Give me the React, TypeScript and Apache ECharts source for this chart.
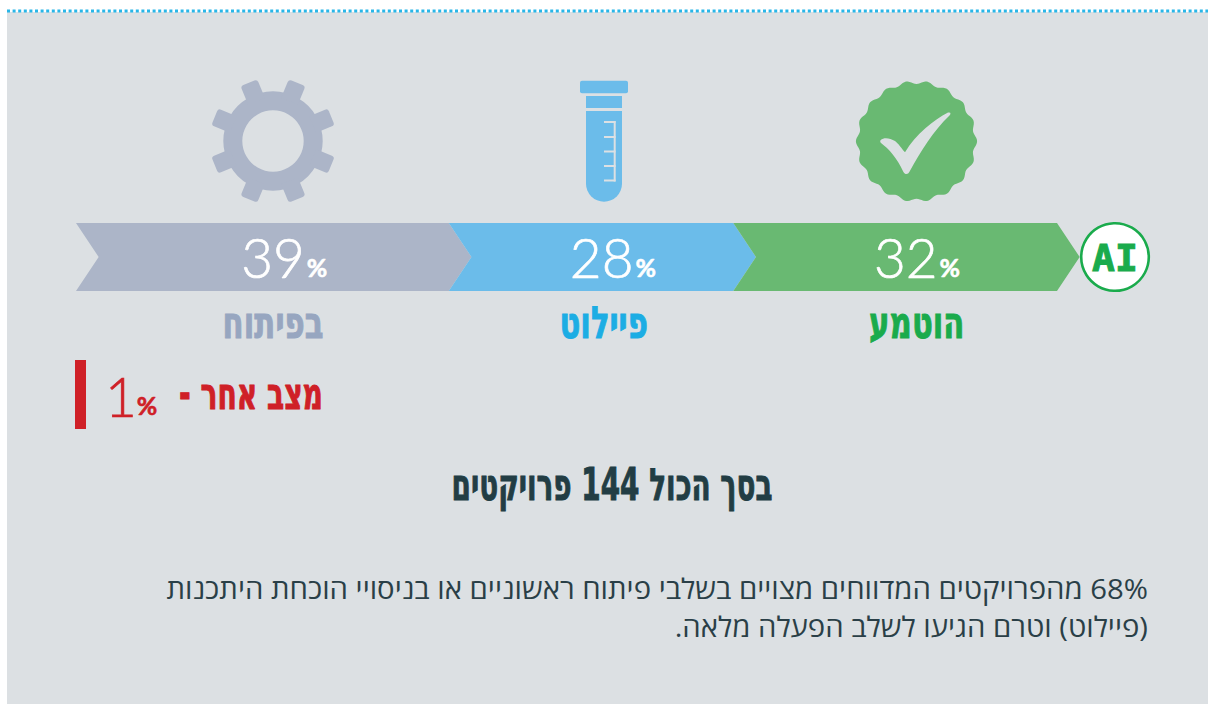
import React, { useEffect, useRef } from "react";
import * as echarts from "echarts";

const stageLabels = ["בפיתוח", "פיילוט", "הוטמע"];
const stagePercents = [39, 28, 32];
const stageSpans = [38, 29, 33];
const bandColors = ["#acb5c8", "#6bbcea", "#69b972"];
const labelColors = ["#97a6c0", "#1cade4", "#1aab4c"];
const otherLabel = "מצב אחר -";
const otherPercent = 1;
const totalTitle = "בסך הכול 144 פרויקטים";
const noteLines = [
  "68% מהפרויקטים המדווחים מצויים בשלבי פיתוח ראשוניים או בניסויי הוכחת היתכנות",
  "(פיילוט) וטרם הגיעו לשלב הפעלה מלאה.",
];

const BG = "#dce0e3";
const RED = "#cf2027";
const DARK = "#223d44";
const NUM_FONT = "Lato";
const HEAD_FONT = "DejaVu Sans";
const labelOffsets = [-12, -10, -1];

function badgePath() {
  const cx = 916.5, cy = 141.3, n = 18, steps = 216;
  let d = "";
  for (let i = 0; i < steps; i++) {
    const a = (i / steps) * Math.PI * 2;
    const r = 59 + 1.6 * Math.cos(n * a);
    d += (i ? "L" : "M") + (cx + r * Math.cos(a)).toFixed(2) + " " + (cy + r * Math.sin(a)).toFixed(2);
  }
  return d + "Z";
}
const checkPath =
  "M880.7 140 C884 137 890 138 895 141 C898 143 902 149 905 152.3 C916 134 934 120 948 112.6 C951 111.8 951 114 949.5 115.4 C934 130 920 152 909.6 171.5 C908 174.8 905 174.8 903.3 171.7 C897 158 889 149 881 143 C880 142 880 141 880.7 140 Z";
const tubePath = "M586 111 H622 V183.7 A18 18 0 0 1 586 183.7 Z";

echarts.graphic.registerShape("badgeShape", echarts.graphic.extendPath(badgePath(), {}));
echarts.graphic.registerShape("checkShape", echarts.graphic.extendPath(checkPath, {}));
echarts.graphic.registerShape("tubeShape", echarts.graphic.extendPath(tubePath, {}));

function squeezed(text: string, x: number, y: number, size: number, scaleX: number, fill: string) {
  return {
    type: "text",
    x,
    y,
    scaleX,
    style: {
      x: 0,
      y: 0,
      text,
      fill,
      stroke: fill,
      lineWidth: 1,
      font: `bold ${size}px "${HEAD_FONT}"`,
      textAlign: "center",
      textVerticalAlign: "middle",
    },
  };
}

function numberText(text: string, x: number, y: number, fill: string) {
  return {
    type: "text",
    x,
    y,
    scaleX: 0.98,
    style: {
      x: 0,
      y: 0,
      text,
      fill,
      stroke: fill,
      lineWidth: 0.7,
      font: `300 56px "${NUM_FONT}"`,
      textAlign: "center",
      textVerticalAlign: "middle",
    },
  };
}

function percentSign(x: number, y: number, fill: string) {
  return {
    type: "text",
    style: {
      x,
      y,
      text: "%",
      fill,
      stroke: fill,
      lineWidth: 0.6,
      font: `bold 25px "${NUM_FONT}"`,
      textAlign: "center",
      textVerticalAlign: "middle",
    },
  };
}

function gear() {
  const teeth = [0, 1, 2, 3, 4, 5, 6, 7].map((k) => ({
    type: "rect",
    rotation: -(Math.PI / 8 + (k * Math.PI) / 4),
    shape: { x: -9, y: -63, width: 18, height: 20, r: [3, 3, 0, 0] },
    style: { fill: bandColors[0] },
  }));
  return {
    type: "group",
    x: 273,
    y: 141,
    children: [
      { type: "ring", shape: { cx: 0, cy: 0, r: 49.7, r0: 30.7 }, style: { fill: bandColors[0] } },
      ...teeth,
    ],
  };
}

function tube() {
  const ticks = [122, 137, 151.5, 166, 180.5].map((y) => ({
    type: "rect",
    shape: { x: 604, y: y - 1, width: 11.5, height: 2 },
    style: { fill: BG },
  }));
  return {
    type: "group",
    children: [
      { type: "rect", shape: { x: 580, y: 80.7, width: 48, height: 12.6, r: 2 }, style: { fill: bandColors[1] } },
      { type: "rect", shape: { x: 586, y: 96, width: 36, height: 12 }, style: { fill: bandColors[1] } },
      { type: "tubeShape", style: { fill: bandColors[1] } },
      { type: "rect", shape: { x: 613.7, y: 121, width: 2, height: 60.5 }, style: { fill: BG } },
      ...ticks,
    ],
  };
}

function renderBand(params: any, api: any) {
  const i = api.value(2);
  const start = api.coord([api.value(0), 1]);
  const end = api.coord([api.value(1), 0]);
  const top = start[1], bottom = end[1], mid = (top + bottom) / 2;
  const depth = (bottom - top) / 3;
  const left = start[0], right = end[0];
  const center = left + depth + (right - left) / 2;
  return {
    type: "group",
    children: [
      {
        type: "polygon",
        shape: {
          points: [
            [left, top],
            [right, top],
            [right + depth, mid],
            [right, bottom],
            [left, bottom],
            [left + depth, mid],
          ],
        },
        style: { fill: bandColors[i] },
      },
      numberText(String(stagePercents[i]), center - 12, mid - 1, "#ffffff"),
      percentSign(center + 32, mid + 10, "#ffffff"),
      squeezed(stageLabels[i], center + labelOffsets[i], 323, 44, 0.7, labelColors[i]),
    ],
  };
}

export default function App() {
  const ref = useRef<HTMLDivElement>(null);
  useEffect(() => {
    if (!ref.current) return;
    const chart = echarts.init(ref.current, undefined, { renderer: "svg" });
    let acc = 0;
    const bands = stageSpans.map((s, i) => {
      const row = [acc, acc + s, i];
      acc += s;
      return row;
    });
    chart.setOption({
      animation: false,
      backgroundColor: "#ffffff",
      grid: { left: 76, top: 223, width: 981, height: 68 },
      xAxis: { type: "value", min: 0, max: 100, show: false },
      yAxis: { type: "value", min: 0, max: 1, show: false },
      series: [
        {
          type: "custom",
          coordinateSystem: "cartesian2d",
          silent: true,
          clip: false,
          encode: { x: [0, 1] },
          data: bands,
          renderItem: renderBand,
          z: 5,
        },
      ],
      graphic: [
        { type: "rect", z: 0, shape: { x: 7, y: 12, width: 1201, height: 692 }, style: { fill: BG } },
        {
          type: "line",
          z: 1,
          shape: { x1: 7, y1: 11, x2: 1208, y2: 11 },
          style: { stroke: "#29b6e8", lineWidth: 3, lineDash: [3, 2.6] },
        },
        gear(),
        tube(),
        { type: "badgeShape", style: { fill: bandColors[2] } },
        { type: "checkShape", style: { fill: BG } },
        {
          type: "circle",
          z: 10,
          shape: { cx: 1115, cy: 257, r: 33.8 },
          style: { fill: "#ffffff", stroke: labelColors[2], lineWidth: 2.6 },
        },
        {
          type: "text",
          z: 11,
          style: {
            x: 1115,
            y: 258,
            text: "AI",
            fill: labelColors[2],
            stroke: labelColors[2],
            lineWidth: 1,
            font: 'bold 38px "DejaVu Sans Mono"',
            textAlign: "center",
            textVerticalAlign: "middle",
          },
        },
        { type: "rect", shape: { x: 75, y: 360, width: 11, height: 69 }, style: { fill: RED } },
        numberText(String(otherPercent), 121, 395, RED),
        percentSign(147, 405, RED),
        squeezed(otherLabel, 251, 394, 44, 0.64, RED),
        squeezed(totalTitle, 612, 485, 44, 0.634, DARK),
        ...noteLines.map((line, i) => ({
          type: "text",
          x: 1148,
          y: 588 + i * 38,
          scaleX: 1.047,
          style: {
            x: 0,
            y: 0,
            text: line,
            fill: "#2a3f47",
            font: '28px "Open Sans"',
            textAlign: "left",
            textVerticalAlign: "middle",
          },
        })),
      ],
    });
    return () => chart.dispose();
  }, []);
  return (
    <div
      ref={ref}
      style={{ position: "absolute", left: 0, top: 0, width: 1208, height: 704, direction: "rtl" }}
    />
  );
}
